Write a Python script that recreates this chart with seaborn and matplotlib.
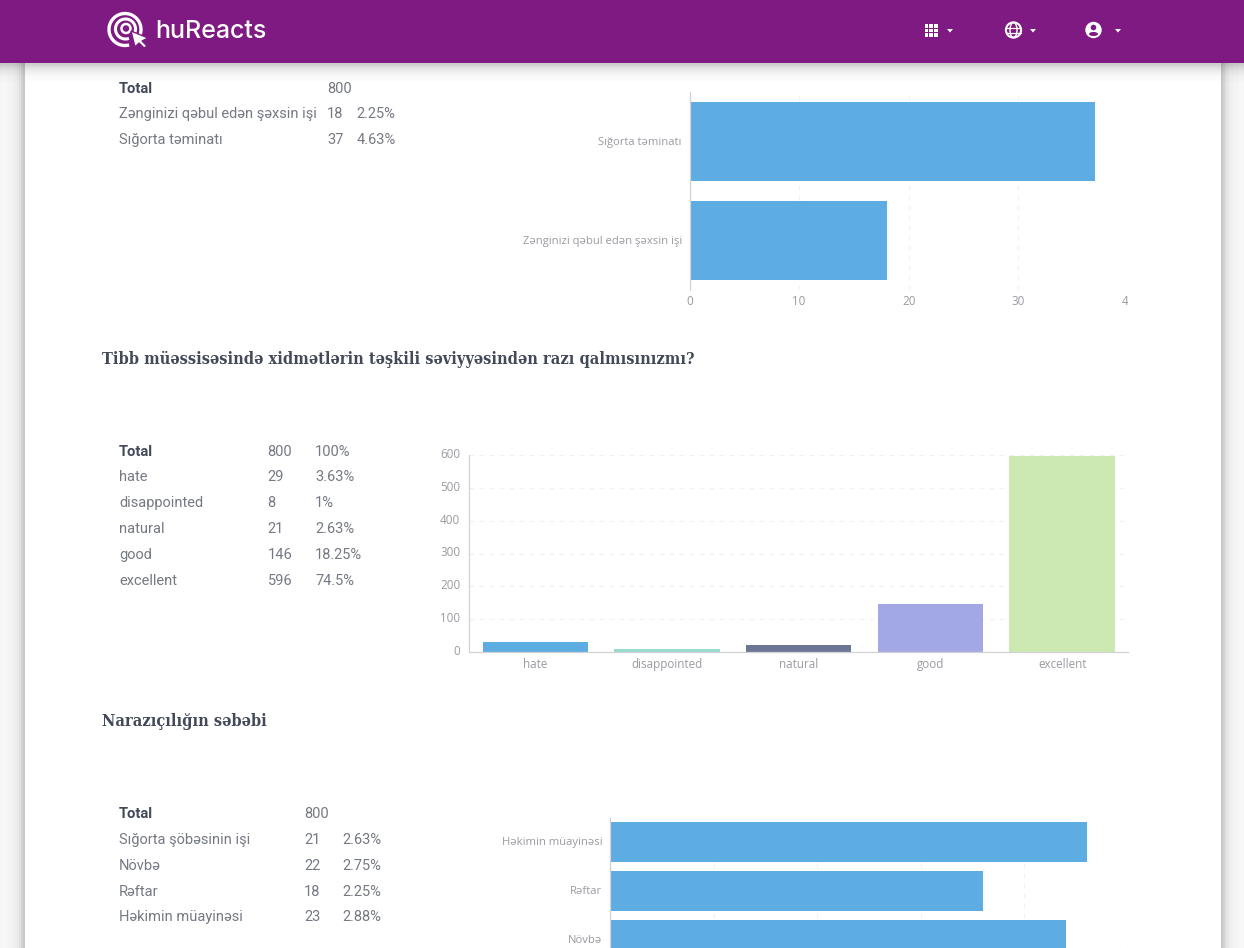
import numpy as np
import pandas as pd
import seaborn as sns
import matplotlib.pyplot as plt
from matplotlib.patches import Arc, Polygon, Rectangle, Circle, Ellipse
from matplotlib.transforms import Bbox, ScaledTranslation

W, H = 1244, 948

# first question
q1_labels = ["Sığorta təminatı", "Zənginizi qəbul edən şəxsin işi"]
q1_values = [37, 18]
q1_ticks = [0, 10, 20, 30, 40]
q1_table = [("Zənginizi qəbul edən şəxsin işi", "18", "2.25%"), ("Sığorta təminatı", "37", "4.63%")]

# second question
q2_title = "Tibb müəssisəsində xidmətlərin təşkili səviyyəsindən razı qalmısınızmı?"
q2_labels = ["hate", "disappointed", "natural", "good", "excellent"]
q2_values = [29, 8, 21, 146, 596]
q2_colors = ["#5DADE2", "#96DDCF", "#6C7593", "#A2A8E4", "#CDE9B2"]
q2_ticks = [0, 100, 200, 300, 400, 500, 600]
q2_table = [("hate", "29", "3.63%"), ("disappointed", "8", "1%"), ("natural", "21", "2.63%"),
            ("good", "146", "18.25%"), ("excellent", "596", "74.5%")]

# third question
q3_title = "Narazıçılığın səbəbi"
q3_labels = ["Həkimin müayinəsi", "Rəftar", "Növbə", "Sığorta şöbəsinin işi"]
q3_values = [23, 18, 22, 21]
q3_ticks = [0, 5, 10, 15, 20, 25]
q3_table = [("Sığorta şöbəsinin işi", "21", "2.63%"), ("Növbə", "22", "2.75%"),
            ("Rəftar", "18", "2.25%"), ("Həkimin müayinəsi", "23", "2.88%")]

PURPLE = "#7F1A82"
BAR = "#5DADE2"
TICK = "#9A9AA2"
GRID = "#F2F2F2"
AXIS = "#D2D2D6"
TEXT_DARK = "#434959"
TEXT = "#757984"

sns.set_theme(style="white")
plt.rcParams["font.family"] = ["Open Sans", "DejaVu Sans"]
fig = plt.figure(figsize=(W / 100, H / 100), dpi=100, facecolor="#F6F6F6")


def px_axes(x0, y0, x1, y1, **kw):
    return fig.add_axes([x0 / W, 1 - y1 / H, (x1 - x0) / W, (y1 - y0) / H], **kw)


# page chrome drawn in pixel coordinates
bg = px_axes(0, 0, W, H, zorder=0)
bg.axis("off")

side = np.array([0.97, 0.965, 0.96, 0.955, 0.95, 0.94, 0.93, 0.91, 0.88, 0.83, 0.78])
bg.imshow(side[None, :], extent=(3, 25, H, 0), cmap="gray", vmin=0, vmax=1, aspect="auto")
bg.imshow(side[None, ::-1], extent=(1221, 1243, H, 0), cmap="gray", vmin=0, vmax=1, aspect="auto")
bg.add_patch(Rectangle((25, 0), 1196, H, fc="white", lw=0, zorder=2))
shadow = np.zeros((8, 1, 4))
shadow[:, :, :3] = 0.35
shadow[:, 0, 3] = [0.30, 0.22, 0.15, 0.10, 0.07, 0.04, 0.02, 0.01]
bg.imshow(shadow, extent=(0, W, 82, 63), aspect="auto", zorder=3)
bg.set_xlim(0, W)
bg.set_ylim(H, 0)


def draw_table(x_name, x_val, x_pct, rows_y, total, rows):
    bg.text(x_name, rows_y[0], "Total", fontsize=10.6, family="Roboto", weight="bold",
            color=TEXT_DARK, va="center", zorder=5)
    bg.text(x_val, rows_y[0], total[0], fontsize=10.55, family="Roboto", color=TEXT,
            va="center", zorder=5)
    if total[1]:
        bg.text(x_pct, rows_y[0], total[1], fontsize=10.55, family="Roboto", color=TEXT,
                va="center", zorder=5)
    for y, (name, val, pct) in zip(rows_y[1:], rows):
        for x, s in ((x_name, name), (x_val, val), (x_pct, pct)):
            bg.text(x, y, s, fontsize=10.55, family="Roboto", color=TEXT, va="center", zorder=5)


draw_table(119, 327, 356.5, [89, 114, 140], ("800", ""), q1_table)
draw_table(119, 267.5, 315, [452, 477, 503, 529, 555, 581], ("800", "100%"), q2_table)
draw_table(119, 304, 342, [814, 840, 866, 892, 917], ("800", ""), q3_table)

for y, title in ((359, q2_title), (722, q3_title)):
    bg.text(102, y, title, fontsize=11.7, family="DejaVu Serif", stretch="condensed", weight="bold",
            color=TEXT_DARK, va="center", zorder=5)


def style_horizontal(ax, ticks, xmax):
    ax.set_xlim(0, xmax)
    ax.set_xticks(ticks)
    ax.grid(axis="x", color=GRID, linestyle=(0, (4, 4)), linewidth=0.9)
    ax.set_axisbelow(True)
    ax.set_xlabel("")
    ax.set_ylabel("")
    sns.despine(ax=ax, top=True, right=True, bottom=True)
    ax.spines["left"].set_color(AXIS)
    ax.spines["left"].set_linewidth(0.9)
    ax.tick_params(axis="x", length=0, labelsize=8.4, labelcolor=TICK, pad=3.5)
    ax.tick_params(axis="y", length=0, labelsize=8.15, labelcolor=TICK, pad=5.5)
    ax.patch.set_alpha(0)
    for lab in ax.get_yticklabels():
        lab.set_transform(lab.get_transform() + ScaledTranslation(0, 0.7 / 72, fig.dpi_scale_trans))


# first chart
ax1 = px_axes(689.5, 92, 1128, 290, zorder=3)
df1 = pd.DataFrame({"label": q1_labels, "value": q1_values})
sns.barplot(data=df1, y="label", x="value", color=BAR, saturation=1, width=0.8, linewidth=0, ax=ax1)
style_horizontal(ax1, q1_ticks, 40)
last = ax1.get_xticklabels()[-1]
last.set_clip_box(Bbox([[0, 0], [1128, H]]))
last.set_clip_on(True)

# second chart
ax2 = px_axes(469.5, 455, 1128, 652, zorder=3)
df2 = pd.DataFrame({"label": q2_labels, "value": q2_values})
sns.barplot(data=df2, x="label", y="value", hue="label", palette=q2_colors, legend=False,
            saturation=1, width=0.8, linewidth=0, ax=ax2)
ax2.set_ylim(0, 600)
ax2.set_yticks(q2_ticks)
ax2.grid(axis="y", color=GRID, linestyle=(0, (4, 4)), linewidth=0.9)
ax2.set_axisbelow(True)
ax2.set_xlabel("")
ax2.set_ylabel("")
sns.despine(ax=ax2)
ax2.spines["left"].set_color(AXIS)
ax2.spines["left"].set_linewidth(0.9)
ax2.spines["bottom"].set_color(AXIS)
ax2.spines["bottom"].set_linewidth(0.9)
ax2.tick_params(axis="both", length=0, labelsize=8.4, labelcolor=TICK, pad=4)
ax2.tick_params(axis="y", pad=6.5)
ax2.patch.set_alpha(0)
for lab in ax2.get_yticklabels():
    lab.set_transform(lab.get_transform() + ScaledTranslation(0, 1.5 / 72, fig.dpi_scale_trans))

# third chart runs past the bottom of the page, 49 px per category
ax3 = px_axes(610, 817.5, 1128, H, zorder=3)
df3 = pd.DataFrame({"label": q3_labels, "value": q3_values})
sns.barplot(data=df3, y="label", x="value", color=BAR, saturation=1, width=0.8, linewidth=0, ax=ax3)
style_horizontal(ax3, q3_ticks, 25)
ax3.set_ylim((H - 817.5) / 49 - 0.5, -0.5)
ax3.tick_params(axis="x", labelbottom=False)

# header bar on top of everything
top = px_axes(0, 0, W, H, zorder=6)
top.set_xlim(0, W)
top.set_ylim(H, 0)
top.axis("off")
top.add_patch(Rectangle((0, 0), W, 63, fc=PURPLE, lw=0))

# logo
top.add_patch(Arc((125, 29.5), 32, 32, theta1=75, theta2=385, color="white", lw=2.4))
top.add_patch(Arc((125.5, 29), 20, 20, theta1=70, theta2=385, color="white", lw=2.2))
top.add_patch(Arc((126, 28.5), 9, 9, theta1=40, theta2=400, color="white", lw=1.8))
top.add_patch(Polygon([(131, 31), (148, 38), (142, 41), (147, 46), (144, 48), (139, 43), (135, 47)],
                      fc="white", ec=PURPLE, lw=1))
top.text(155, 31, "huReacts", fontsize=18, family="Inter", weight="medium", color="white", va="center")

# menu icons
for i in range(3):
    for j in range(3):
        top.add_patch(Rectangle((924.5 + i * 4.7, 24 + j * 4.7), 3.6, 3.6, fc="white", lw=0))
top.add_patch(Circle((1013.5, 30), 7.6, fc="none", ec="white", lw=1.5))
top.add_patch(Ellipse((1013.5, 30), 7, 15, fc="none", ec="white", lw=1))
top.plot([1006, 1021], [27.5, 27.5], color="white", lw=0.9)
top.plot([1006, 1021], [32.5, 32.5], color="white", lw=0.9)
top.add_patch(Circle((1093.5, 30), 8.2, fc="white", lw=0))
top.add_patch(Circle((1093.5, 27.5), 2.8, fc=PURPLE, lw=0))
top.add_patch(Ellipse((1093.5, 34), 9, 4, fc=PURPLE, lw=0))
for x in (950, 1033, 1118):
    top.add_patch(Polygon([(x - 3, 29), (x + 3, 29), (x, 32.5)], fc="white", lw=0))

fig.savefig("out.png", dpi=100, facecolor=fig.get_facecolor())
